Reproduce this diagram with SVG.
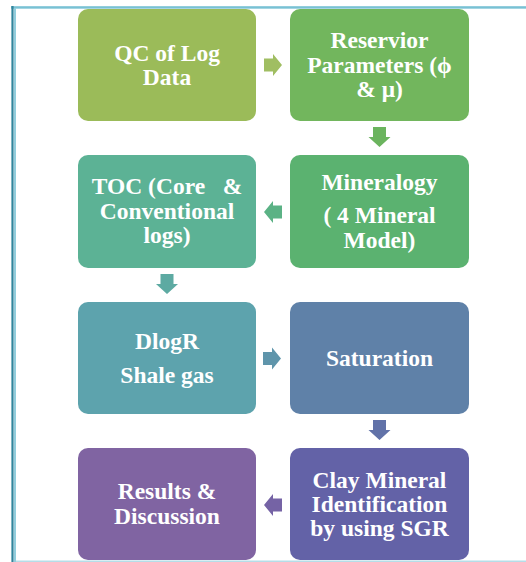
<svg xmlns="http://www.w3.org/2000/svg" width="526" height="562" viewBox="0 0 526 562">
<style>
.box{stroke:none}
.t{font-weight:bold;font-size:23.5px;fill:#ffffff;text-anchor:middle;white-space:pre}
</style>
<defs>
<path id="arrR" d="M0,-6.5 H9 V-11 L18,0 L9,11 V6.5 H0 Z"/>
<path id="arrD" d="M-6.5,0 V10 H-11 L0,20 L11,10 H6.5 V0 Z"/>
</defs>
<rect width="526" height="562" fill="#ffffff"/>
<g id="frame">
<line x1="11" y1="6.5" x2="526" y2="6.5" stroke="#92CDDC" stroke-width="1"/>
<line x1="11" y1="7.8" x2="526" y2="7.8" stroke="#4BACC6" stroke-width="1.3"/>
<line x1="12.5" y1="6" x2="12.5" y2="562" stroke="#31849B" stroke-width="2.2"/>
<line x1="15" y1="8" x2="15" y2="562" stroke="#92CDDC" stroke-width="2"/>
<line x1="16" y1="561.2" x2="526" y2="561.2" stroke="#B6DDE8" stroke-width="1.5"/>
</g>
<g id="connectors">
<use href="#arrR" transform="translate(264,65)" fill="#A0BE62"/>
<use href="#arrD" transform="translate(379.5,127)" fill="#6BB45E"/>
<use href="#arrR" transform="translate(282,212) scale(-1,1)" fill="#5BB285"/>
<use href="#arrD" transform="translate(167,274)" fill="#5DAAA2"/>
<use href="#arrR" transform="translate(263,358.5)" fill="#5F95AB"/>
<use href="#arrD" transform="translate(379.5,420)" fill="#6172A8"/>
<use href="#arrR" transform="translate(282,505) scale(-1,1)" fill="#7563A5"/>
</g>
<g font-family="Liberation Serif, Times New Roman, DejaVu Serif, serif">
<g id="n1">
<rect class="box" x="78" y="9" width="178" height="112" rx="10" fill="#9BBB59"/>
<text class="t" x="167" y="61">QC of Log</text>
<text class="t" x="167" y="85">Data</text>
</g>
<g id="n2">
<rect class="box" x="290" y="9" width="179" height="112" rx="10" fill="#72B65D"/>
<text class="t" x="379.5" y="48">Reservior</text>
<text class="t" x="379.5" y="73">Parameters (ϕ</text>
<text class="t" x="379.5" y="97">&amp; μ)</text>
</g>
<g id="n3">
<rect class="box" x="290" y="155" width="179" height="113" rx="10" fill="#5BB270"/>
<text class="t" x="379.5" y="190">Mineralogy</text>
<text class="t" x="379.5" y="223">( 4 Mineral</text>
<text class="t" x="379.5" y="248">Model)</text>
</g>
<g id="n4">
<rect class="box" x="78" y="155" width="178" height="113" rx="10" fill="#5CB295"/>
<text class="t" x="167" y="194">TOC (Core   &amp;</text>
<text class="t" x="167" y="219">Conventional</text>
<text class="t" x="167" y="243">logs)</text>
</g>
<g id="n5">
<rect class="box" x="78" y="302" width="178" height="112" rx="10" fill="#5DA3AD"/>
<text class="t" x="167" y="349">DlogR</text>
<text class="t" x="167" y="383">Shale gas</text>
</g>
<g id="n6">
<rect class="box" x="290" y="302" width="179" height="112" rx="10" fill="#5F81A8"/>
<text class="t" x="379.5" y="366">Saturation</text>
</g>
<g id="n7">
<rect class="box" x="290" y="448" width="179" height="112" rx="10" fill="#6362A7"/>
<text class="t" x="379.5" y="488">Clay Mineral</text>
<text class="t" x="379.5" y="512">Identification</text>
<text class="t" x="379.5" y="536">by using SGR</text>
</g>
<g id="n8">
<rect class="box" x="78" y="448" width="178" height="112" rx="10" fill="#8064A2"/>
<text class="t" x="167" y="499">Results &amp;</text>
<text class="t" x="167" y="524">Discussion</text>
</g>
</g>
</svg>
